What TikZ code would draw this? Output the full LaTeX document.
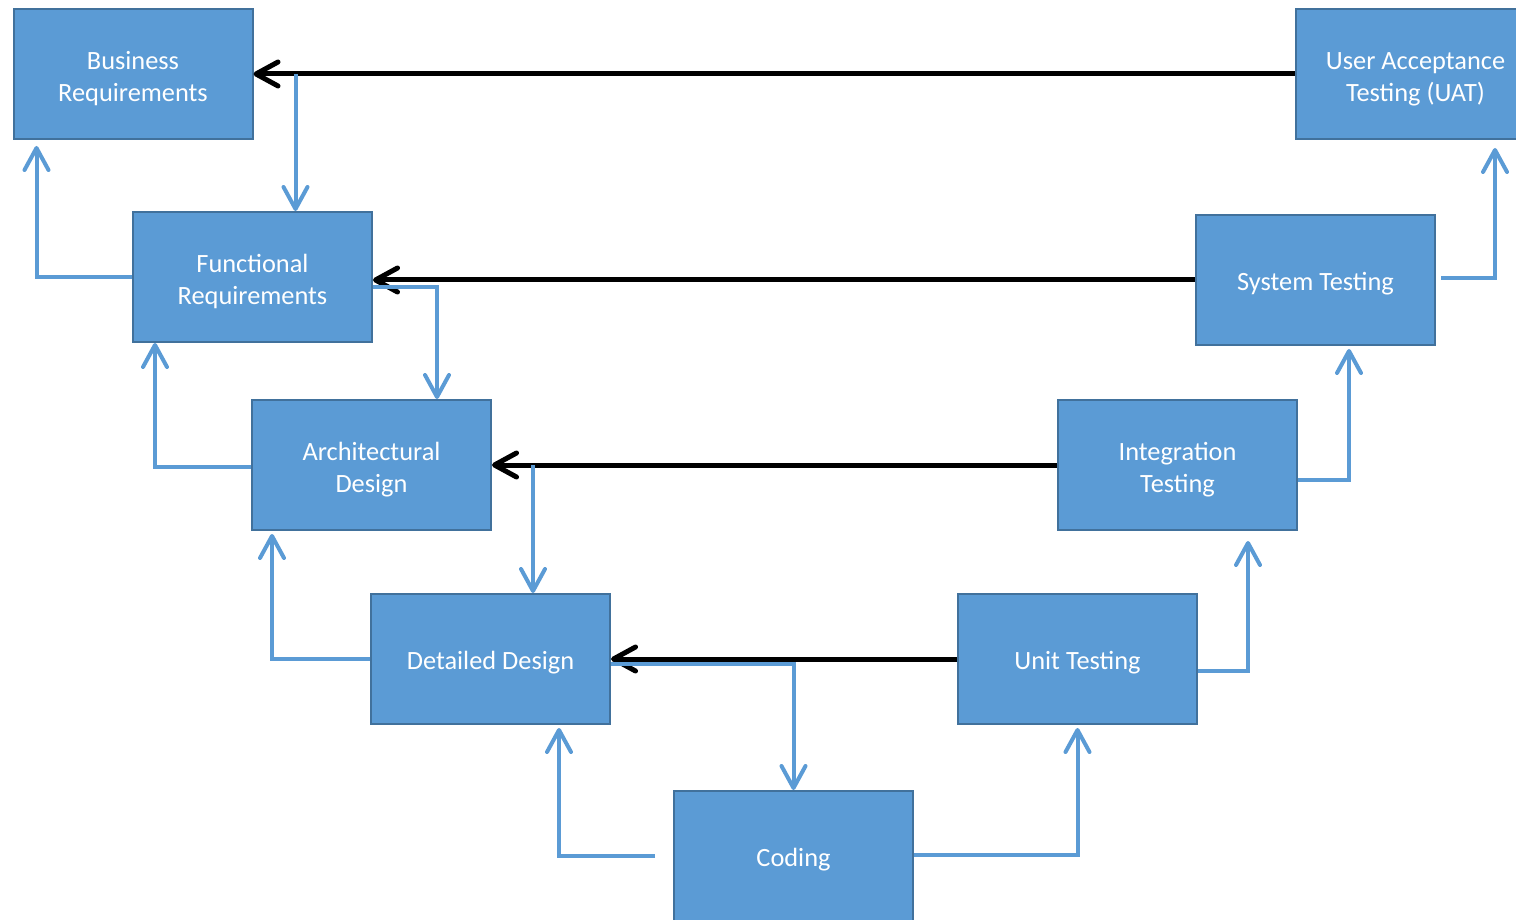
\documentclass[tikz,border=0pt]{standalone}
\usepackage{fontspec}
\setmainfont{Carlito}
\usepackage{xcolor}
\usepackage{tikz}
\usetikzlibrary{arrows.meta}
\usetikzlibrary{calc}

\definecolor{boxblue}{HTML}{5B9BD5}
\definecolor{boxedge}{HTML}{41719C}

\tikzset{
    phase/.style={rectangle,fill=boxblue,draw=boxedge,line width=0.04cm,
        minimum width=4.78cm,minimum height=2.6cm,inner sep=0pt,align=center,
        text=white,font=\fontsize{15}{18.2}\selectfont,
        execute at begin node={\rule{0pt}{15pt}}},
    twoline/.style={execute at begin node={\rule{0pt}{34pt}}},
    verif/.style={black,line width=0.1cm,
        -{Straight Barb[round,length=0.44cm,width=0.48cm]}},
    flow/.style={boxblue,line width=0.08cm,
        -{Straight Barb[round,length=0.44cm,width=0.48cm]}}
}

\begin{document}
\begin{tikzpicture}

        \useasboundingbox (0,0) rectangle (30.32,-18.4);

        \node[phase,twoline] (br) at (2.66,-1.48) {Business\\Requirements};
        \node[phase,twoline] (fr) at (5.05,-5.54) {Functional\\Requirements};
        \node[phase,twoline] (ad) at (7.43,-9.30) {Architectural\\Design};
        \node[phase] (dd) at (9.81,-13.18) {Detailed Design};
        \node[phase] (cd) at (15.87,-17.12) {Coding};
        \node[phase] (ut) at (21.55,-13.18) {Unit Testing};
        \node[phase,twoline] (it) at (23.55,-9.30) {Integration\\Testing};
        \node[phase] (st) at (26.31,-5.60) {System Testing};
        \node[phase,twoline] (uat) at (28.31,-1.48) {User Acceptance\\Testing (UAT)};

        \draw[verif] (uat.west) -- (uat.west -| br.east);
        \draw[verif] (st.west) -- (st.west -| fr.east);
        \draw[verif] (it.west) -- (it.west -| ad.east);
        \draw[verif] (ut.west) -- (ut.west -| dd.east);

        \draw[flow] ([xshift=0.84cm]br.east) -- ([xshift=0.84cm]br.east |- fr.north);
        \draw[flow] ([yshift=-0.2cm]fr.east) -| ([xshift=1.31cm]ad.north);
        \draw[flow] ([xshift=0.82cm]ad.east) -- ([xshift=0.82cm]ad.east |- dd.north);
        \draw[flow] ([yshift=-0.1cm]dd.east) -| (cd.north);

        \draw[flow,shorten >=0.12cm] (fr.west) -| ([xshift=0.48cm]br.south west);
        \draw[flow] ([yshift=-0.04cm]ad.west) -| ([xshift=0.46cm]fr.south west);
        \draw[flow,shorten >=0.06cm] (dd.west) -| ([xshift=0.42cm]ad.south west);
        \draw[flow,shorten >=0.06cm] ([xshift=-0.36cm]cd.west) -| ([xshift=1.37cm]dd.south);

        \draw[flow,shorten >=0.06cm] ([yshift=0.02cm]cd.east) -| (ut.south);
        \draw[flow,shorten >=0.2cm] ([yshift=-0.24cm]ut.east) -| ([xshift=1.41cm]it.south);
        \draw[flow,shorten >=0.06cm] ([yshift=-0.3cm]it.east) -| ([xshift=0.67cm]st.south);
        \draw[flow,shorten >=0.16cm] ([xshift=0.1cm,yshift=0.04cm]st.east) -| ([xshift=1.59cm]uat.south);

\end{tikzpicture}
\end{document}
